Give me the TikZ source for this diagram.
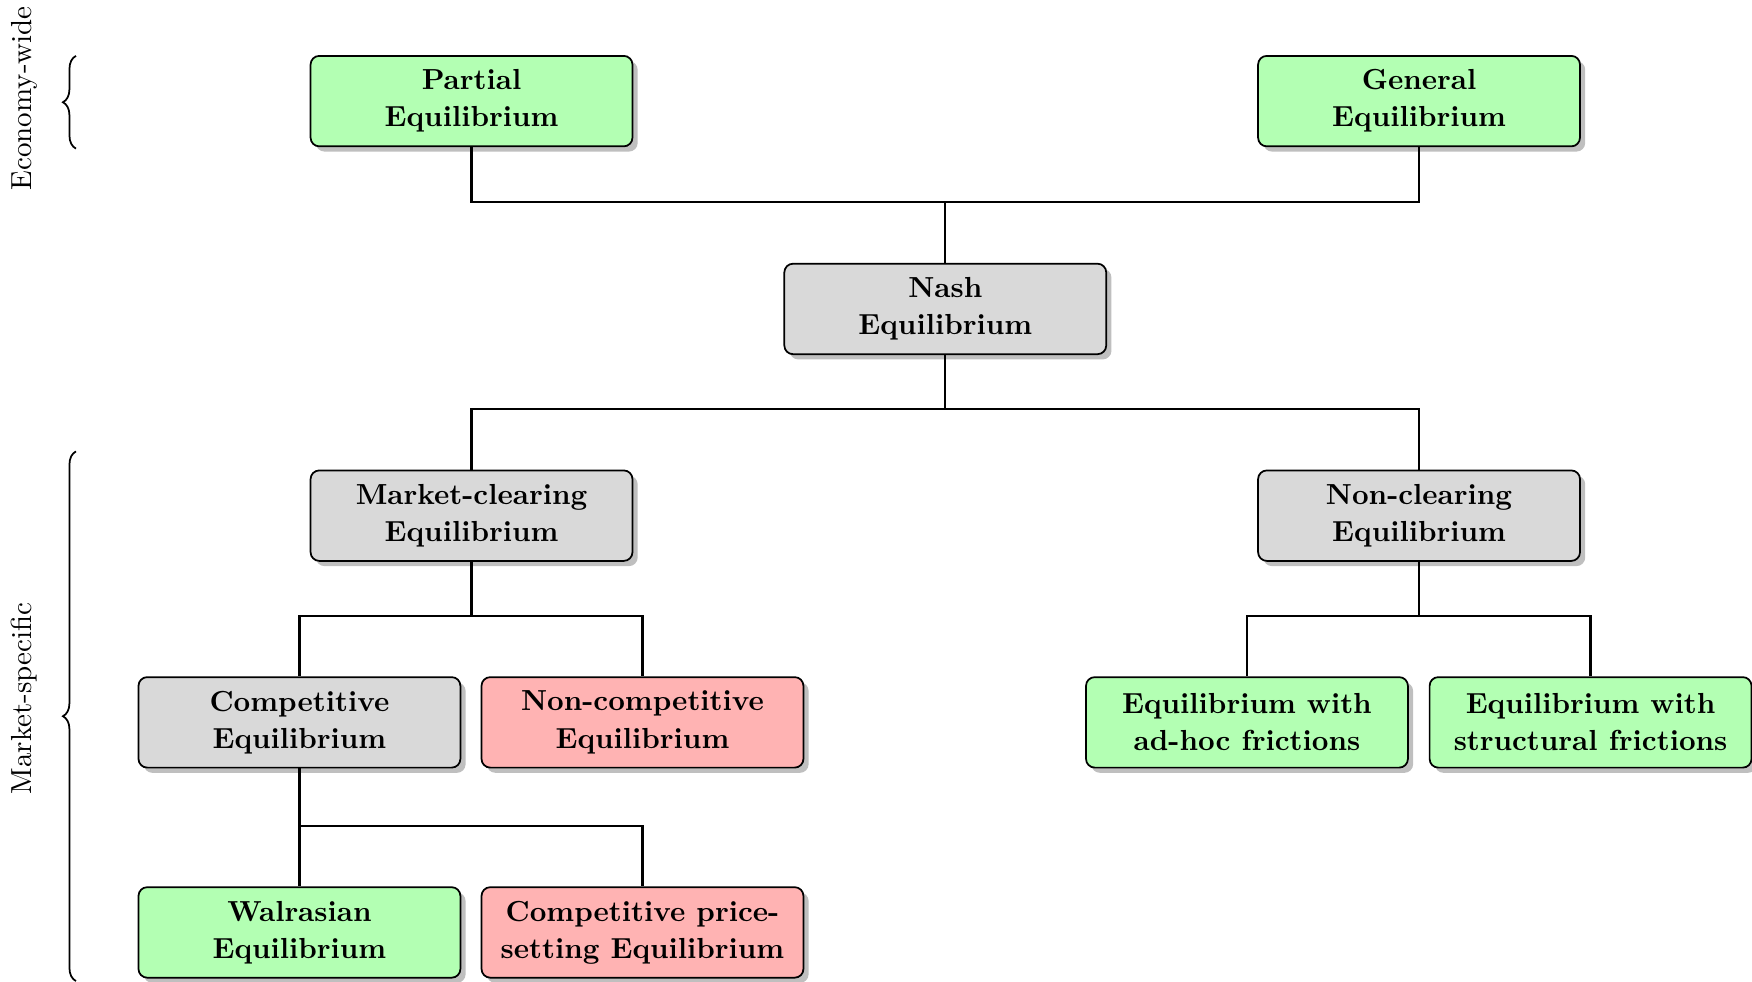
\documentclass[tikz,border=0pt]{standalone}
\usetikzlibrary{shadows,decorations.pathreplacing}
\definecolor{boxgreen}{HTML}{B3FFB3}
\definecolor{boxgray}{HTML}{D9D9D9}
\definecolor{boxred}{HTML}{FFB3B3}
\tikzset{
  eqbox/.style={draw, semithick, rounded corners=3pt, minimum width=111pt, minimum height=31.2pt,
    align=center, font=\bfseries\fontsize{10}{12.8}\selectfont, inner sep=2pt,
    drop shadow={shadow xshift=1.8pt, shadow yshift=-1.8pt, fill=black!25, opacity=1}},
  greenbox/.style={eqbox, fill=boxgreen},
  graybox/.style={eqbox, fill=boxgray},
  redbox/.style={eqbox, fill=boxred},
  conn/.style={thick},
  bracestyle/.style={semithick, decorate, decoration={brace, amplitude=4.5pt}},
  sidelabel/.style={rotate=90, inner sep=0pt}
}
\begin{document}
\begin{tikzpicture}[x=0.3853pt, y=-0.3853pt]
\useasboundingbox (0,0) rectangle (1568,878);
% level 0
\node[greenbox] (P) at (422,90.5) {Partial\\Equilibrium};
\node[greenbox] (G) at (1270,90.5) {General\\Equilibrium};
% level 1
\node[graybox] (N) at (846,276.5) {Nash\\Equilibrium};
% level 2
\node[graybox] (MC) at (422,461.5) {Market-clearing\\Equilibrium};
\node[graybox] (NC) at (1270,461.5) {Non-clearing\\Equilibrium};
% level 3
\node[graybox] (C) at (268,646.5) {Competitive\\Equilibrium};
\node[redbox] (NComp) at (575,646.5) {Non-competitive\\Equilibrium};
\node[greenbox] (AH) at (1116,646.5) {Equilibrium with\\ad-hoc frictions};
\node[greenbox] (SF) at (1423.5,646.5) {Equilibrium with\\structural frictions};
% level 4
\node[greenbox] (W) at (268,834.5) {Walrasian\\Equilibrium};
\node[redbox] (CPS) at (575,834.5) {Competitive price-\\setting Equilibrium};
% junctions
\coordinate (j1) at (846,181);
\coordinate (j2) at (846,366);
\coordinate (j3) at (422,551);
\coordinate (j4) at (1270,551);
\coordinate (j5) at (268,739);
% connectors
\draw[conn] (P.south) |- (j1) -- (N.north);
\draw[conn] (G.south) |- (j1);
\draw[conn] (N.south) -- (j2);
\draw[conn] (j2) -| (MC.north);
\draw[conn] (j2) -| (NC.north);
\draw[conn] (MC.south) -- (j3);
\draw[conn] (j3) -| (C.north);
\draw[conn] (j3) -| (NComp.north);
\draw[conn] (NC.south) -- (j4);
\draw[conn] (j4) -| (AH.north);
\draw[conn] (j4) -| (SF.north);
\draw[conn] (C.south) -- (j5) -- (W.north);
\draw[conn] (j5) -| (CPS.north);
% braces
\coordinate (b1s) at (68,133);
\coordinate (b1e) at (68,50);
\coordinate (b2s) at (68,878);
\coordinate (b2e) at (68,404);
\draw[bracestyle] (b1s) -- (b1e);
\draw[bracestyle] (b2s) -- (b2e);
\node[sidelabel] (L1) at (22,88) {Economy-wide};
\node[sidelabel] (L2) at (22,625) {Market-specific};
\end{tikzpicture}
\end{document}
